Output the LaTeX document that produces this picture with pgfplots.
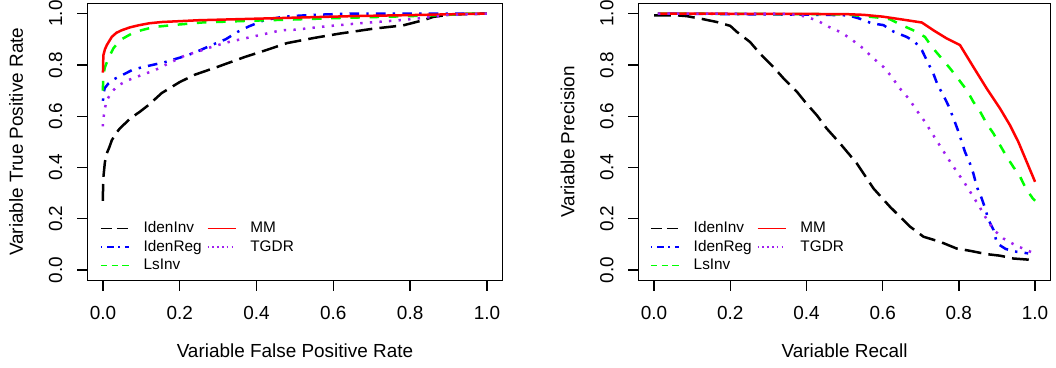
\documentclass[border=0pt]{standalone}
\usepackage{fontspec}
\setmainfont{Liberation Sans}
\usepackage{pgfplots}
\pgfplotsset{compat=1.18}
\definecolor{rgreen}{RGB}{0,255,0}
\definecolor{rpurple}{RGB}{160,32,240}
\definecolor{rblue}{RGB}{0,0,255}
\definecolor{rred}{RGB}{255,0,0}
\tikzset{
  ldash/.style={line width=2.5bp, dash pattern=on 16.8bp off 7.2bp},
  ddash/.style={line width=2.5bp, dash pattern=on 9.6bp off 9.6bp},
  dotdash/.style={line width=2.5bp, dash pattern=on 2.4bp off 7.2bp on 9.6bp off 7.2bp},
  ddot/.style={line width=2.5bp, dash pattern=on 2.4bp off 7.2bp},
  lsolid/.style={line width=2.5bp},
}
\pgfplotsset{
  rstyle/.style={
    scale only axis,
    axis lines=box,
    axis on top,
    xmin=-0.04, xmax=1.04, ymin=-0.04, ymax=1.04,
    xtick={0,0.2,0.4,0.6,0.8,1}, xticklabels={0.0,0.2,0.4,0.6,0.8,1.0},
    ytick={0,0.2,0.4,0.6,0.8,1}, yticklabels={0.0,0.2,0.4,0.6,0.8,1.0},
    xtick pos=bottom, ytick pos=left,
    tick align=outside, major tick length=10.5bp,
    tick style={draw=black, line width=1.3bp},
    axis line style={draw=black, line width=1.3bp},
    ticklabel style={font=\fontsize{19}{22}\selectfont},
    xticklabel style={anchor=center, yshift=-21.7bp},
    yticklabel style={xshift=-21.4bp, rotate=90, anchor=center},
    label style={font=\fontsize{19}{22}\selectfont},
    xlabel style={at={(axis description cs:0.5,0)}, anchor=center, yshift=-70.4bp},
    ylabel style={at={(axis description cs:-0.1722,0.5)}, anchor=center, rotate=0},
    legend columns=2,
    legend cell align=left,
    legend image code/.code={\draw[##1] (0bp,0bp) -- (28bp,0bp);},
    legend style={draw=none, fill=none, inner sep=0pt, outer sep=0pt, anchor=north west,
      nodes={inner sep=0pt, text height=11bp, text depth=3bp, font=\fontsize{15.4}{18}\selectfont},
      row sep=4.5bp,
      /tikz/every odd column/.append style={column sep=14bp},
      /tikz/every even column/.append style={column sep=5bp}},
  }
}
\begin{document}
\begin{tikzpicture}
\path[use as bounding box] (0,0) rectangle (1056bp,368bp);
% ---------------- left panel ----------------
\begin{axis}[rstyle, at={(87.6bp,87.7bp)}, anchor=south west,
  width=414.7bp, height=277bp,
  xlabel={Variable False Positive Rate}, ylabel={Variable True Positive Rate},
  legend style={at={(axis cs:-0.0078,0.189)}}]
\addplot[black, ldash, forget plot] coordinates {
(0,0.27)(0,0.30)(0.001,0.36)(0.005,0.42)(0.01,0.455)(0.017,0.48)(0.023,0.506)(0.035,0.535)(0.044,0.552)(0.06,0.575)(0.07,0.59)(0.096,0.617)(0.12,0.645)(0.153,0.69)(0.2,0.733)(0.24,0.762)(0.3,0.793)(0.37,0.831)(0.42,0.855)(0.48,0.885)(0.55,0.905)(0.617,0.922)(0.704,0.941)(0.782,0.954)(0.834,0.974)(0.86,0.987)(0.904,0.996)(0.95,0.998)(1,1)};
\addplot[rblue, dotdash, forget plot] coordinates {
(0,0.66)(0.001,0.688)(0.005,0.71)(0.014,0.727)(0.03,0.745)(0.05,0.76)(0.075,0.779)(0.1,0.79)(0.13,0.80)(0.16,0.81)(0.2,0.828)(0.22,0.837)(0.25,0.855)(0.283,0.877)(0.32,0.90)(0.35,0.928)(0.38,0.95)(0.42,0.974)(0.46,0.985)(0.49,0.99)(0.55,0.995)(0.65,1)(1,1)};
\addplot[rgreen, ddash, forget plot] coordinates {
(0,0.70)(0,0.714)(0.001,0.76)(0.005,0.79)(0.014,0.825)(0.027,0.864)(0.044,0.896)(0.075,0.922)(0.1,0.935)(0.135,0.948)(0.196,0.957)(0.256,0.965)(0.386,0.972)(0.5,0.977)(0.6,0.982)(0.7,0.986)(0.8,0.99)(0.9,0.995)(0.95,1)(1,1)};
\addplot[rred, lsolid, forget plot] coordinates {
(0,0.77)(0.001,0.837)(0.005,0.86)(0.01,0.877)(0.023,0.909)(0.035,0.925)(0.049,0.935)(0.07,0.946)(0.092,0.954)(0.12,0.962)(0.153,0.967)(0.25,0.974)(0.35,0.978)(0.5,0.984)(0.65,0.99)(0.8,0.994)(0.9,0.997)(1,1)};
\addplot[rpurple, ddot, forget plot] coordinates {
(0,0.56)(0,0.578)(0.005,0.63)(0.01,0.662)(0.023,0.695)(0.04,0.72)(0.065,0.74)(0.1,0.76)(0.135,0.779)(0.17,0.805)(0.214,0.837)(0.25,0.853)(0.283,0.87)(0.33,0.89)(0.387,0.909)(0.465,0.935)(0.5,0.937)(0.58,0.95)(0.66,0.961)(0.773,0.974)(0.86,0.987)(0.9,0.995)(1,1)};
\addlegendimage{black, line width=1.7bp, dash pattern=on 11bp off 5bp}
\addlegendentry{IdenInv}
\addlegendimage{rred, line width=1.7bp}
\addlegendentry{MM}
\addlegendimage{rblue, line width=1.7bp, dash pattern=on 1.6bp off 4.8bp on 6.4bp off 4.8bp}
\addlegendentry{IdenReg}
\addlegendimage{rpurple, line width=1.7bp, dash pattern=on 1.6bp off 3.2bp}
\addlegendentry{TGDR}
\addlegendimage{rgreen, line width=1.7bp, dash pattern=on 6.4bp off 4.4bp}
\addlegendentry{LsInv}
\end{axis}
% ---------------- right panel ----------------
\begin{axis}[rstyle, at={(638.8bp,87.7bp)}, anchor=south west,
  width=411.5bp, height=277bp,
  xlabel={Variable Recall}, ylabel={Variable Precision},
  ylabel style={at={(axis description cs:-0.1733,0.5)}},
  legend style={at={(axis cs:-0.0105,0.189)}}]
\addplot[black, ldash, forget plot] coordinates {
(0,0.993)(0.06,0.993)(0.086,0.99)(0.129,0.978)(0.165,0.967)(0.2,0.952)(0.217,0.929)(0.252,0.889)(0.278,0.844)(0.313,0.792)(0.34,0.747)(0.375,0.695)(0.4,0.649)(0.427,0.604)(0.453,0.552)(0.488,0.494)(0.532,0.416)(0.576,0.318)(0.619,0.247)(0.672,0.169)(0.707,0.13)(0.751,0.11)(0.794,0.084)(0.829,0.075)(0.873,0.062)(0.908,0.056)(0.943,0.045)(0.996,0.039)};
\addplot[rblue, dotdash, forget plot] coordinates {
(0.01,1)(0.45,0.995)(0.51,0.993)(0.54,0.98)(0.571,0.962)(0.602,0.955)(0.628,0.93)(0.663,0.909)(0.685,0.889)(0.703,0.857)(0.72,0.805)(0.733,0.766)(0.744,0.723)(0.759,0.682)(0.772,0.643)(0.786,0.591)(0.799,0.539)(0.816,0.461)(0.829,0.416)(0.838,0.377)(0.847,0.325)(0.86,0.279)(0.869,0.24)(0.878,0.195)(0.891,0.156)(0.9,0.104)(0.923,0.082)(0.952,0.071)(0.982,0.065)};
\addplot[rgreen, ddash, forget plot] coordinates {
(0.01,1)(0.5,0.997)(0.584,0.985)(0.619,0.978)(0.65,0.955)(0.68,0.935)(0.711,0.909)(0.729,0.87)(0.755,0.825)(0.777,0.786)(0.801,0.74)(0.821,0.701)(0.838,0.656)(0.856,0.617)(0.873,0.571)(0.891,0.532)(0.908,0.487)(0.926,0.441)(0.943,0.402)(0.961,0.363)(0.976,0.318)(0.994,0.279)(1,0.27)};
\addplot[rred, lsolid, forget plot] coordinates {
(0.01,1)(0.5,0.998)(0.55,0.995)(0.6,0.988)(0.646,0.978)(0.703,0.965)(0.733,0.935)(0.768,0.903)(0.803,0.877)(0.838,0.792)(0.873,0.708)(0.908,0.63)(0.934,0.565)(0.956,0.5)(1,0.344)};
\addplot[rpurple, ddot, forget plot] coordinates {
(0.01,1)(0.33,1)(0.36,0.997)(0.392,0.99)(0.427,0.974)(0.459,0.948)(0.493,0.925)(0.521,0.896)(0.549,0.864)(0.576,0.825)(0.602,0.792)(0.624,0.753)(0.644,0.71)(0.668,0.669)(0.691,0.619)(0.711,0.578)(0.731,0.53)(0.751,0.483)(0.773,0.432)(0.793,0.387)(0.814,0.342)(0.834,0.295)(0.854,0.247)(0.873,0.198)(0.892,0.156)(0.917,0.123)(0.948,0.097)(0.982,0.075)(0.99,0.07)};
\addlegendimage{black, line width=1.7bp, dash pattern=on 11bp off 5bp}
\addlegendentry{IdenInv}
\addlegendimage{rred, line width=1.7bp}
\addlegendentry{MM}
\addlegendimage{rblue, line width=1.7bp, dash pattern=on 1.6bp off 4.8bp on 6.4bp off 4.8bp}
\addlegendentry{IdenReg}
\addlegendimage{rpurple, line width=1.7bp, dash pattern=on 1.6bp off 3.2bp}
\addlegendentry{TGDR}
\addlegendimage{rgreen, line width=1.7bp, dash pattern=on 6.4bp off 4.4bp}
\addlegendentry{LsInv}
\end{axis}
\end{tikzpicture}
\end{document}
